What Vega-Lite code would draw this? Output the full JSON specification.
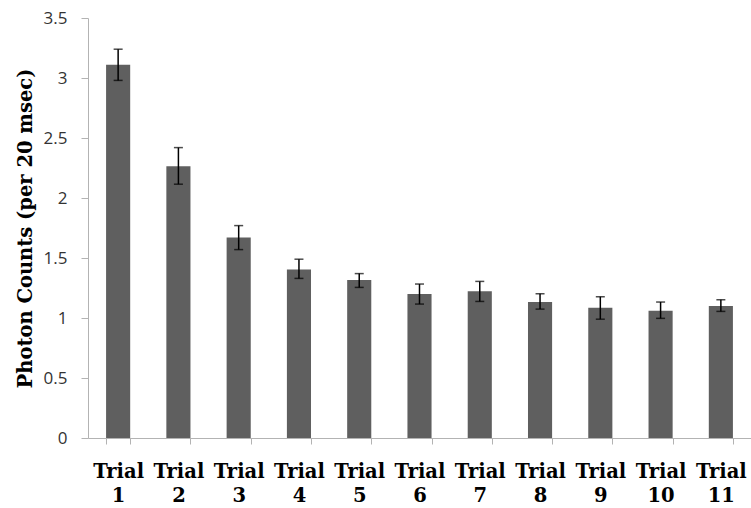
{
  "$schema": "https://vega.github.io/schema/vega-lite/v6.json",
  "width": 663,
  "height": 420,
  "autosize": {"type": "none"},
  "padding": {"left": 88, "top": 18, "right": 0, "bottom": 70},
  "background": "white",
  "config": {"view": {"stroke": null}},
  "data": {
    "values": [
      {"trial": "Trial 1", "value": 3.11, "lo": 2.98, "hi": 3.24},
      {"trial": "Trial 2", "value": 2.265, "lo": 2.115, "hi": 2.42},
      {"trial": "Trial 3", "value": 1.67, "lo": 1.57, "hi": 1.77},
      {"trial": "Trial 4", "value": 1.405, "lo": 1.33, "hi": 1.49},
      {"trial": "Trial 5", "value": 1.316, "lo": 1.255, "hi": 1.37},
      {"trial": "Trial 6", "value": 1.2, "lo": 1.116, "hi": 1.283},
      {"trial": "Trial 7", "value": 1.222, "lo": 1.138, "hi": 1.305},
      {"trial": "Trial 8", "value": 1.133, "lo": 1.074, "hi": 1.202},
      {"trial": "Trial 9", "value": 1.085, "lo": 0.99, "hi": 1.177},
      {"trial": "Trial 10", "value": 1.06, "lo": 0.997, "hi": 1.133},
      {"trial": "Trial 11", "value": 1.1, "lo": 1.055, "hi": 1.152}
    ]
  },
  "encoding": {
    "x": {
      "field": "trial",
      "type": "nominal",
      "sort": null,
      "scale": {"paddingInner": 0.6, "paddingOuter": 0.3},
      "axis": {
        "title": null,
        "labelAngle": 0,
        "labelExpr": "split(datum.label, ' ')",
        "labelFont": "DejaVu Serif",
        "labelFontWeight": "bold",
        "labelFontSize": 19.5,
        "labelLineHeight": 24,
        "labelColor": "black",
        "labelPadding": 18,
        "domainColor": "#b3b3b3",
        "tickColor": "#b3b3b3",
        "tickSize": 6,
        "tickBand": "extent",
        "labelBound": false,
        "labelOverlap": false
      }
    }
  },
  "layer": [
    {
      "mark": {"type": "bar", "color": "#5f5f5f"},
      "encoding": {
        "y": {
          "field": "value",
          "type": "quantitative",
          "scale": {"domain": [0, 3.5], "nice": false},
          "axis": {
            "title": "Photon Counts (per 20 msec)",
            "titleFont": "DejaVu Serif",
            "titleFontWeight": "bold",
            "titleFontSize": 19.5,
            "titleColor": "black",
            "titlePadding": 8,
            "values": [0, 0.5, 1, 1.5, 2, 2.5, 3, 3.5],
            "format": "~g",
            "labelFont": "Open Sans",
            "labelFontSize": 17,
            "labelColor": "#333333",
            "labelPadding": 14,
            "grid": false,
            "domainColor": "#b3b3b3",
            "tickColor": "#b3b3b3",
            "tickSize": 7
          }
        }
      }
    },
    {
      "mark": {"type": "rule", "color": "black", "strokeWidth": 1.5},
      "encoding": {
        "y": {"field": "lo", "type": "quantitative"},
        "y2": {"field": "hi"}
      }
    },
    {
      "mark": {"type": "tick", "color": "black", "thickness": 1.5, "size": 9},
      "encoding": {"y": {"field": "lo", "type": "quantitative"}}
    },
    {
      "mark": {"type": "tick", "color": "black", "thickness": 1.5, "size": 9},
      "encoding": {"y": {"field": "hi", "type": "quantitative"}}
    }
  ]
}
